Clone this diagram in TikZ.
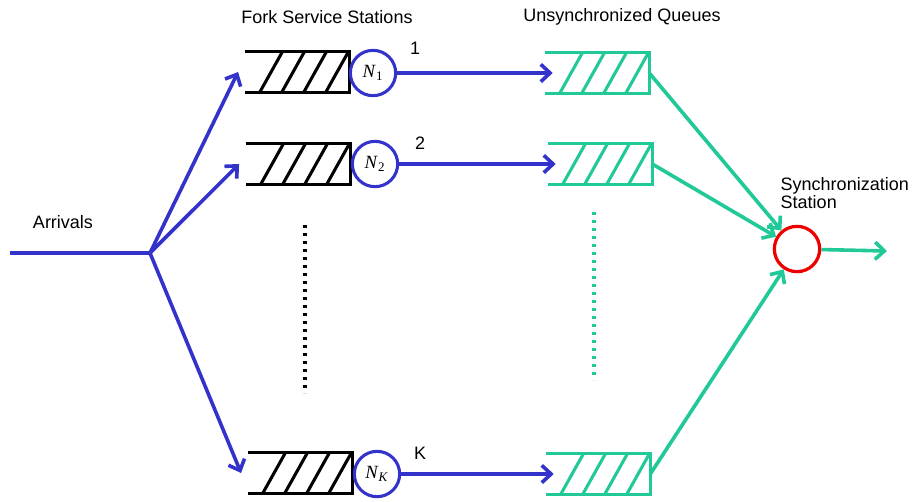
\documentclass[tikz,border=0pt]{standalone}
\usepackage{fontspec}
\setmainfont{Liberation Sans}
\newfontfamily\srvfont{Liberation Serif}
\usetikzlibrary{arrows.meta}
\definecolor{forkblue}{RGB}{51,51,204}
\definecolor{qgreen}{RGB}{32,201,151}
\definecolor{syncred}{RGB}{238,0,0}
\newcommand{\srvlabel}[1]{\textit{N}\textsubscript{#1}}
\tikzset{
  txt/.style={font=\fontsize{13.5}{11.5}\selectfont},
  queue/.style={minimum width=78pt,minimum height=30pt,inner sep=0pt},
  qline/.style={line width=2.3pt},
  srv/.style={circle,draw=forkblue,line width=2.3pt,minimum size=34pt,inner sep=0pt,font=\srvfont\fontsize{14}{15}\selectfont},
  flow/.style={line width=2.7pt,-{Straight Barb[length=7pt,width=13pt]}},
  dots/.style={line width=2.4pt,dash pattern=on 2.2pt off 3.8pt}
}
\begin{document}
\begin{tikzpicture}[x=0.75pt,y=-0.75pt]
  \useasboundingbox (0,0) rectangle (912,501);
  \node[txt] at (327,17) (forktitle) {Fork Service Stations};
  \node[txt] at (622,17) (unsynctitle) {Unsynchronized Queues};
  \node[txt] at (63,222) (arrivals) {Arrivals};
  \node[txt,align=left,anchor=west] at (776,193) (synctitle) {Synchronization\\Station};
    % fork side queues
    \foreach \y/\n/\xs in {72/1/297,164/2/298,473/K/300}{
        \node[queue] at (\xs,\y) (f\n) {};
        \draw[qline] (f\n.north west) -- (f\n.north east) -- (f\n.south east) -- (f\n.south west);
        \foreach \d in {15,37,59,81}
            \draw[qline] ([xshift=\d*0.75pt]f\n.south west) -- ([xshift=\d*0.75pt+17pt]f\n.north west);
    }
    % unsynchronized queues
    \foreach \y/\n/\xs in {73/1/597,164/2/600,474/K/598}{
        \node[queue] at (\xs,\y) (g\n) {};
        \draw[qline,qgreen] (g\n.north west) -- (g\n.north east) -- (g\n.south east) -- (g\n.south west);
        \foreach \d in {15,37,59,81}
            \draw[qline,qgreen] ([xshift=\d*0.75pt]g\n.south west) -- ([xshift=\d*0.75pt+17pt]g\n.north west);
    }
  \node[srv] at (373,73) (n1) {\srvlabel{1}};
  \node[srv] at (375,164) (n2) {\srvlabel{2}};
  \node[srv] at (377,474) (nK) {\srvlabel{\textit{K}}};
  \node[txt] at (415,48) (l1) {1};
  \node[txt] at (420,143) (l2) {2};
  \node[txt] at (420,453) (lK) {K};
  \node[circle,draw=syncred,line width=2.4pt,minimum size=34pt] at (797,249) (sync) {};
  \coordinate (in) at (10,253);
  \coordinate (fork) at (150,253);
  \coordinate (out) at (887,251);
  \draw[forkblue,line width=2.7pt] (in) -- (fork);
    \foreach \n in {1,2,K}{
        \draw[flow,forkblue] (fork) -- ([xshift=-5pt]f\n.west);
        \draw[flow,forkblue] (n\n) -- ([xshift=6pt]g\n.west);
        \draw[flow,qgreen] (g\n.east) -- (sync);
    }
  \draw[flow,qgreen] (sync) -- (out);
  \coordinate (d1a) at (305,225);
  \coordinate (d1b) at (305,393);
  \coordinate (d2a) at (594,212);
  \coordinate (d2b) at (594,380);
  \draw[dots] (d1a) -- (d1b);
  \draw[dots,qgreen] (d2a) -- (d2b);
\end{tikzpicture}
\end{document}
